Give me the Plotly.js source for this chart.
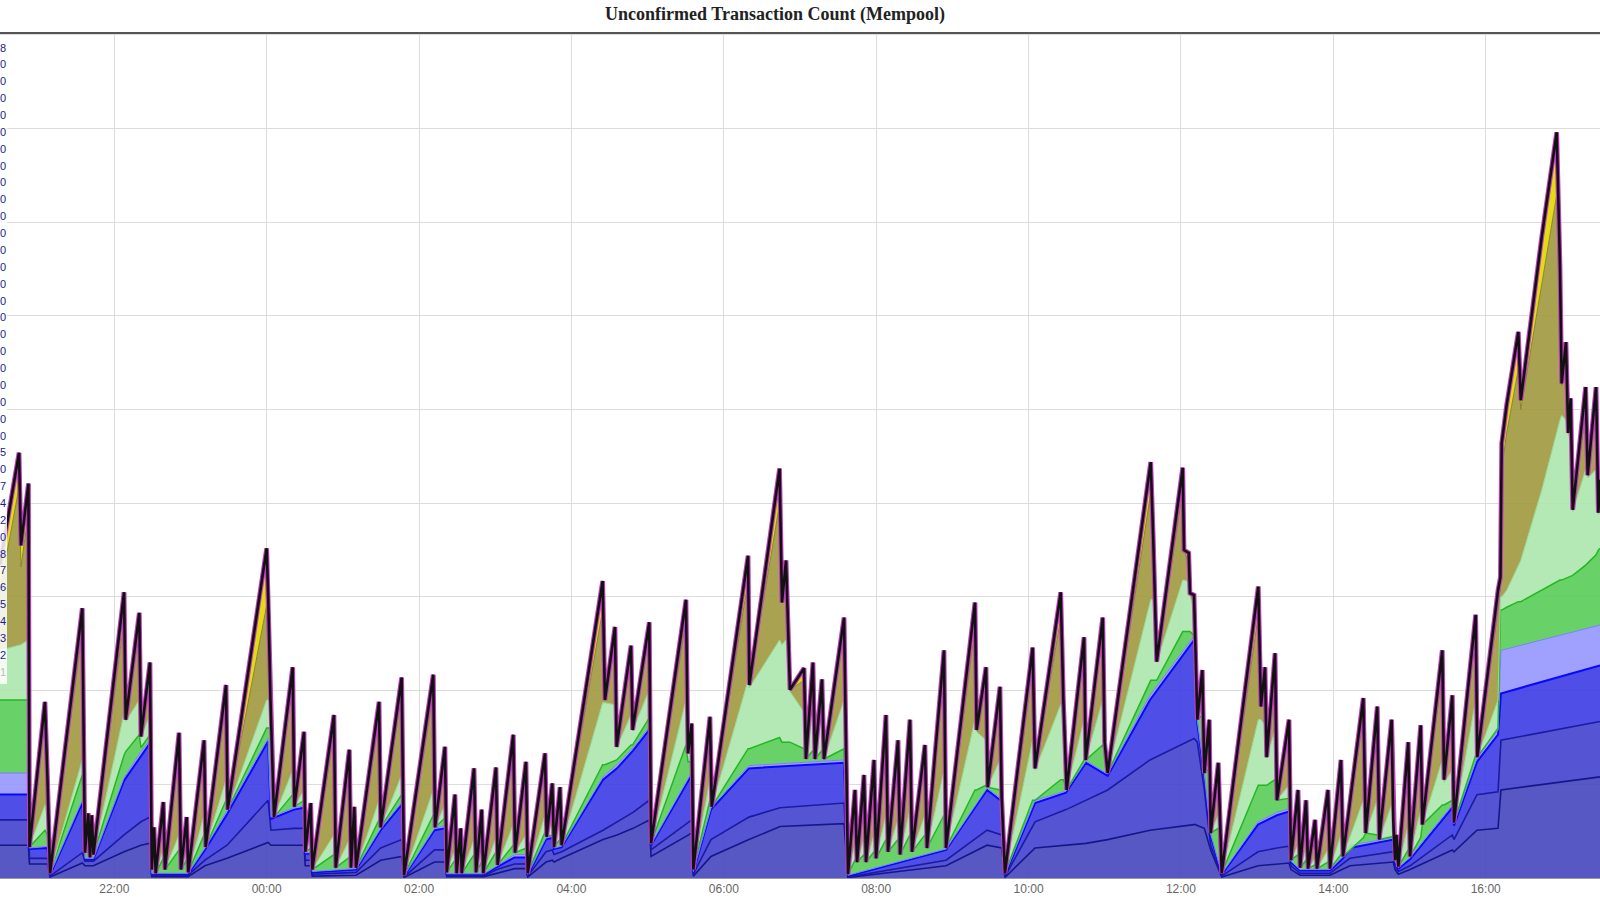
<!DOCTYPE html>
<html><head><meta charset="utf-8">
<script src="https://cdn.plot.ly/plotly-3.0.1.min.js"></script>
<style>html,body{margin:0;padding:0;background:#fff}#chart{width:1600px;height:900px}</style>
</head><body><div id="chart"></div>
<script>
// Time axis: minutes after 20:30 (first visible instant); values in thousands of unconfirmed transactions.
const vertexMinutes = [0.0,15.0,16.5,22.4,23.2,35.4,37.4,39.4,64.8,66.9,69.5,70.9,72.2,73.6,97.7,99.0,109.7,111.0,118.1,119.5,
121.3,122.6,128.6,129.9,141.0,142.5,147.0,148.3,160.7,162.0,178.0,179.3,210.0,211.3,213.0,215.8,230.5,231.8,239.4,240.4,
244.7,245.9,263.0,264.4,275.1,276.4,279.0,280.4,298.5,299.8,316.3,318.2,341.2,342.6,350.4,351.8,358.3,359.6,362.8,363.6,
373.3,374.9,379.3,380.6,390.6,391.9,404.2,405.6,414.2,415.6,429.2,430.5,434.9,436.3,441.0,442.3,474.6,476.4,484.3,485.6,
496.9,498.2,511.3,512.7,540.2,541.8,544.7,546.0,559.1,560.5,589.1,590.1,613.9,615.8,619.0,622.1,633.2,634.7,640.2,641.8,
647.3,648.9,664.7,667.8,673.3,674.9,680.4,682.0,688.3,689.9,697.7,699.3,707.2,708.8,716.6,718.2,728.4,730.0,743.4,745.0,
767.8,769.1,776.5,777.8,787.5,788.8,791.4,813.2,815.1,835.3,837.4,840.0,853.7,855.0,868.4,869.9,872.3,906.2,908.2,910.9,
931.4,932.4,936.1,937.1,940.3,941.6,942.9,946.8,948.4,952.3,953.4,959.4,962.1,990.9,993.0,996.2,997.5,1004.1,1005.6,1015.1,
1016.6,1022.2,1023.8,1028.5,1030.1,1035.6,1037.1,1045.8,1047.4,1056.0,1057.6,1073.6,1075.5,1084.6,1086.2,1095.9,1097.2,1098.6,1099.7,1101.2,
1109.0,1110.4,1118.8,1120.1,1135.8,1137.2,1143.7,1145.0,1162.1,1163.4,1179.7,1181.6,1182.6,1186.5,1195.7,1197.6,1214.1,1225.9,1228.5,1229.8,
1233.2,1235.0,1236.9,1238.5,1248.7,1250.3,1256.9,1258.7,1260.0];

const totalCount = [33.4,45.4,35.5,42.1,3.3,18.8,10.5,0.5,28.8,2.7,6.9,2.2,6.7,2.5,30.5,16.9,28.3,15.1,23.0,0.9,
5.4,0.5,8.1,0.9,15.5,0.9,6.5,0.6,14.7,3.3,20.6,7.3,35.2,29.5,19.0,6.5,22.5,7.6,15.6,2.8,
8.0,0.9,17.4,1.1,13.7,1.1,7.6,1.1,18.8,5.4,21.4,0.3,21.7,5.4,14.0,0.6,8.9,0.5,5.3,0.5,
11.7,0.6,7.3,0.5,11.8,1.4,15.3,2.7,12.4,0.5,13.3,4.4,10.1,3.3,9.7,3.5,31.7,19.0,26.8,14.0,
24.8,15.8,27.3,3.7,29.7,13.3,16.5,0.9,17.2,7.6,34.4,20.6,43.7,29.4,33.9,20.1,22.4,12.7,23.0,12.7,
21.2,12.7,27.8,0.4,9.4,1.7,11.0,1.7,12.6,2.1,17.4,2.8,14.7,2.5,16.9,2.8,14.2,3.2,24.3,3.2,
29.4,15.8,22.5,9.7,20.4,8.6,0.5,24.6,11.7,30.5,19.0,9.4,25.7,12.6,27.8,14.5,11.2,44.4,36.1,23.1,
43.8,35.0,34.7,30.4,30.2,21.9,16.9,22.2,11.2,16.9,4.8,12.3,0.5,31.1,18.3,22.5,12.9,24.0,8.3,16.9,
1.9,9.4,1.1,8.3,1.0,6.2,1.0,9.4,1.0,12.6,2.3,19.2,4.8,18.3,4.1,16.9,6.2,1.9,4.6,1.2,
14.5,2.3,16.3,5.7,24.3,10.5,19.5,5.9,28.1,12.9,30.7,32.1,46.4,50.5,58.3,51.0,68.4,79.6,65.2,52.8,
57.2,47.5,51.2,39.3,52.4,43.0,52.4,39.0,42.5];

const oliveTop = [30.7,41.7,33.2,38.9,3.3,16.9,9.4,0.5,26.3,2.7,6.4,2.2,6.2,2.5,27.5,16.9,26.5,15.1,21.7,0.9,
4.8,0.5,7.3,0.9,13.8,0.9,5.7,0.6,13.3,3.3,18.9,7.3,29.1,29.2,19.0,6.5,20.6,7.6,14.5,2.8,
7.3,0.9,15.3,1.1,12.1,1.1,6.8,1.1,17.0,5.4,19.6,0.3,19.6,5.4,12.9,0.6,7.9,0.5,4.8,0.5,
10.4,0.6,6.5,0.5,10.5,1.4,13.6,2.7,11.1,0.5,12.1,4.4,9.3,3.3,8.9,3.5,28.6,19.0,24.8,14.0,
23.3,15.8,25.9,3.7,27.5,13.3,15.9,0.9,16.0,7.6,31.7,20.6,39.9,29.4,31.4,20.1,21.1,12.7,21.7,12.7,
20.1,12.7,26.0,0.4,8.3,1.7,9.8,1.7,11.2,2.1,15.5,2.8,13.2,2.5,15.2,2.8,12.9,3.2,21.8,3.2,
26.6,15.8,20.7,9.7,18.9,8.6,0.5,22.3,11.7,27.7,19.0,9.4,23.9,12.6,25.9,14.5,11.2,41.1,36.1,23.1,
41.3,35.0,33.5,30.4,29.6,21.9,16.9,21.1,11.2,15.8,4.8,11.0,0.5,28.1,18.3,20.7,12.9,22.1,8.3,15.7,
1.9,8.3,1.1,7.4,1.0,5.5,1.0,8.3,1.0,11.2,2.3,17.1,4.8,16.4,4.1,15.2,6.2,1.9,4.1,1.2,
12.9,2.3,14.6,5.7,22.0,10.5,17.9,5.9,26.0,12.9,28.6,31.3,43.6,47.5,54.3,50.0,63.1,72.9,64.9,52.6,
53.7,47.5,48.5,39.3,49.7,43.0,49.9,39.0,42.0];

const lightGreenTop = [24.3,24.9,24.9,25.4,3.3,7.8,6.2,0.5,12.6,2.7,4.1,2.2,3.8,2.5,17.6,16.7,19.0,14.9,17.4,0.9,
2.5,0.5,3.0,0.9,4.6,0.9,2.8,0.6,6.7,3.3,10.5,7.3,19.0,19.0,18.8,6.5,11.5,7.6,9.4,2.8,
4.1,0.9,4.6,1.1,4.1,1.1,3.0,1.1,8.3,5.4,11.0,0.3,9.4,5.4,7.8,0.6,3.0,0.5,2.1,0.5,
4.1,0.6,2.8,0.5,4.3,1.4,5.7,2.7,4.6,0.5,6.7,4.4,5.7,3.3,5.3,3.5,18.7,18.7,18.5,13.9,
17.4,15.7,20.1,3.7,19.0,13.2,13.7,0.9,10.5,7.6,21.1,20.3,25.4,24.9,25.4,19.9,17.7,12.7,17.9,12.7,
17.4,12.7,19.0,0.4,3.5,1.7,4.1,1.7,4.6,2.1,6.7,2.8,6.2,2.5,7.3,2.8,6.7,3.2,11.5,3.2,
16.9,15.6,14.7,9.7,12.6,8.6,0.5,14.7,11.5,18.5,18.5,9.4,16.9,12.6,19.0,14.4,11.2,29.7,29.7,23.0,
31.8,31.8,31.6,30.2,28.6,21.9,16.9,19.0,11.2,13.1,4.8,6.7,0.5,16.9,16.9,16.3,12.8,15.8,8.3,9.9,
1.9,3.5,1.1,3.0,1.0,2.1,1.0,3.0,1.0,4.6,2.3,8.3,4.8,8.3,4.1,7.8,6.0,1.9,2.8,1.2,
5.7,2.3,7.3,5.7,12.6,10.2,11.5,5.9,19.0,12.9,19.0,30.0,30.0,30.7,33.4,33.9,41.4,47.8,48.9,49.4,
48.9,47.3,46.8,39.1,43.6,42.7,43.6,38.8,39.1];

const greenTop = [19.0,19.0,19.0,19.0,3.3,5.1,4.6,0.5,11.0,2.7,3.2,2.2,3.0,2.5,13.1,13.5,15.3,13.9,15.3,0.9,
1.7,0.5,2.1,0.9,3.0,0.9,1.9,0.6,4.6,3.3,8.3,7.3,16.0,16.0,16.0,6.5,8.9,7.6,8.3,2.8,
3.2,0.9,2.5,1.1,2.2,1.1,1.9,1.1,6.2,5.4,8.9,0.3,6.7,5.4,6.4,0.6,1.9,0.5,1.5,0.5,
2.5,0.6,1.7,0.5,2.8,1.4,3.5,2.7,3.2,0.5,4.9,4.4,4.6,3.3,4.1,3.5,12.1,12.1,12.6,12.6,
14.2,14.2,17.1,3.7,14.2,12.4,12.4,0.9,8.3,7.6,13.8,13.8,15.0,14.5,14.5,14.5,13.8,12.7,13.6,12.7,
13.6,12.7,13.8,0.4,1.9,1.7,2.5,1.7,2.8,2.1,4.1,2.8,4.1,2.5,4.6,2.8,4.6,3.2,6.7,3.2,
9.4,9.4,9.9,9.7,9.4,8.6,0.5,8.3,8.3,10.5,10.5,9.4,12.6,12.6,14.2,13.7,11.2,21.1,21.1,21.1,
26.3,26.3,26.3,26.3,25.9,21.9,16.9,17.4,11.2,11.7,4.8,5.3,0.5,9.9,9.9,9.9,9.9,10.5,8.3,8.5,
1.9,2.5,1.1,1.9,1.0,1.4,1.0,1.7,1.0,2.5,2.3,4.3,4.8,4.6,4.1,4.4,4.4,1.9,2.1,1.2,
3.0,2.3,4.3,5.7,7.8,7.8,8.3,5.9,13.1,12.9,16.0,28.6,28.6,28.9,29.5,29.5,30.7,31.6,31.8,31.8,
32.0,32.1,32.2,32.3,33.4,33.6,34.5,35.0,35.2];

// Low-fee (blue) layers change slowly: read at their own key instants.
const baseMinutes = [0,22.4,23.2,37.4,39.4,64.8,66.9,73.6,97.7,111.0,118.1,119.5,148.1,161.4,178.8,211.1,213.4,231.5,239.4,240.4,
244.7,245.9,280.4,299.8,316.3,318.2,342.2,350.4,351.8,381.2,391.4,405.2,414.2,415.6,430.0,434.9,436.3,442.3,474.9,485.9,
498.5,511.3,512.7,544.7,546.0,559.9,589.8,614.3,664.7,667.8,745.0,777.3,788.8,791.4,815.1,839.5,855.2,872.3,905.6,940.3,
941.6,942.9,948.4,953.4,962.1,990.7,1005.6,1015.1,1016.6,1023.8,1047.4,1057.6,1063.1,1097.2,1098.6,1101.2,1110.4,1143.7,1145.0,1163.1,
1179.7,1182.0,1260];
const lavenderTop = [11.2,11.2,3.2,3.4,0.4,8.3,2.1,2.1,10.7,13.5,14.7,0.5,0.5,3.2,7.2,14.9,6.5,7.5,7.7,2.7,
2.7,0.7,1.0,5.3,8.1,0.25,5.3,5.6,0.45,0.45,1.3,2.5,2.5,0.4,4.3,4.5,3.2,3.4,10.8,12.1,
13.9,16.1,3.6,11.3,0.7,7.5,12.0,12.2,12.6,0.3,3.1,9.6,8.4,0.4,8.3,9.3,12.5,11.1,19.5,25.8,
21.8,16.8,11.1,4.7,0.45,6.0,7.0,7.4,1.8,0.9,0.9,2.3,3.5,4.3,1.8,1.1,2.2,7.8,5.8,12.8,
15.8,24.3,27.0];
const blueTop = [8.9,8.9,3.1,3.2,0.3,8.0,2.0,2.0,10.4,13.1,14.4,0.45,0.4,3.0,6.8,14.6,6.3,7.3,7.5,2.6,
2.6,0.6,0.9,5.1,7.8,0.2,5.1,5.3,0.4,0.4,1.2,2.2,2.2,0.3,4.1,4.3,3.1,3.3,10.5,11.7,
13.6,15.8,3.5,11.0,0.6,7.3,11.7,11.9,12.3,0.2,3.0,9.4,8.2,0.3,8.0,9.1,12.3,10.9,19.0,25.4,
21.6,16.5,10.9,4.5,0.35,5.7,6.7,7.1,1.7,0.8,0.8,2.1,3.2,4.1,1.7,1.0,2.0,7.5,5.6,12.4,
15.3,19.7,22.7];
const navy2Top = [6.2,6.2,2.1,2.1,0.2,2.7,1.8,1.8,4.6,6.0,6.5,0.3,0.3,1.9,3.5,8.3,5.1,5.3,5.3,1.9,
1.9,0.4,0.6,3.2,4.1,0.1,3.0,3.0,0.25,0.25,0.9,1.5,1.5,0.2,2.8,3.0,2.5,2.8,5.1,6.0,
7.0,8.3,3.0,6.2,0.4,4.1,6.5,7.5,8.0,0.1,1.9,5.1,4.6,0.15,6.0,7.3,8.3,9.4,12.6,14.9,
14.7,14.5,9.4,3.5,0.2,2.8,3.2,3.4,1.3,0.5,0.5,1.5,2.1,2.8,1.3,0.7,1.3,4.6,4.1,8.9,
9.2,14.7,16.7];
const navy1Top = [3.5,3.5,1.5,1.5,0.1,1.6,1.3,1.3,2.8,3.5,3.7,0.15,0.15,1.3,2.1,3.8,3.5,3.5,3.5,1.3,
1.3,0.2,0.3,1.9,2.3,0.05,1.7,1.7,0.15,0.15,0.5,1.0,1.0,0.1,1.7,1.9,1.7,2.1,4.1,4.6,
5.3,6.2,2.3,4.8,0.2,2.3,4.1,5.5,5.8,0.05,1.3,3.5,3.2,0.05,3.2,3.5,3.7,4.1,5.1,5.7,
5.7,5.6,5.3,3.0,0.1,1.3,1.5,1.6,0.9,0.3,0.3,1.0,1.3,1.7,0.9,0.4,0.9,3.0,2.8,5.1,
5.3,9.4,10.8];

// Visible tail characters of the fee-level legend at the left edge (bottom to top).
const legendTail = ['1','2','3','4','5','6','7','8','0','2','4','7','0','5','0','0','0','0','0','0','0','0','0',
'0','0','0','0','0','0','0','0','0','0','0','0','0','0','8'];
const tickLabels = ['22:00','00:00','02:00','04:00','06:00','08:00','10:00','12:00','14:00','16:00'];

const BASE = Date.UTC(2017, 11, 7, 20, 30, 0);
function toDate(m) { return new Date(BASE + m * 60000).toISOString().slice(0, 19).replace('T', ' '); }
function labelToMinutes(s) { let m = parseInt(s.slice(0, 2)) * 60 + parseInt(s.slice(3, 5)) - (20 * 60 + 30); if (m < 0) m += 1440; return m; }
const K = a => a.map(v => v * 1000);
const vx = vertexMinutes.map(toDate);
const bx = baseMinutes.map(toDate);

function layer(x, y, fill, fillcolor, lineColor, lineWidth) {
  return { type: 'scatter', mode: 'lines', x: x, y: K(y), fill: fill, fillcolor: fillcolor,
    line: { color: lineColor, width: lineWidth, shape: 'linear' }, hoverinfo: 'skip', showlegend: false };
}

const traces = [
  layer(bx, navy1Top, 'tozeroy', 'rgba(70,70,190,0.9)', '#16168c', 1.6),
  layer(bx, navy2Top, 'tonexty', 'rgba(66,66,206,0.9)', '#1a1aa2', 1.6),
  layer(bx, blueTop, 'tonexty', 'rgba(60,60,228,0.9)', '#0808ff', 2),
  layer(bx, lavenderTop, 'tonexty', 'rgba(150,150,255,0.9)', '#7c7cff', 1),
  layer(vx, greenTop, 'tonexty', 'rgba(88,204,88,0.9)', '#22b822', 1.5),
  layer(vx, lightGreenTop, 'tonexty', 'rgba(172,229,172,0.9)', '#96d896', 1),
  layer(vx, oliveTop, 'tonexty', 'rgba(160,153,62,0.9)', '#8a8430', 1),
  layer(vx, totalCount, 'tonexty', 'rgba(226,216,0,0.92)', 'rgba(0,0,0,0)', 0),
  { type: 'scatter', mode: 'lines', x: vx, y: K(totalCount), line: { color: '#c23cc2', width: 4.8 }, hoverinfo: 'skip', showlegend: false },
  { type: 'scatter', mode: 'lines', x: vx, y: K(totalCount), line: { color: '#111111', width: 2.6 }, hoverinfo: 'skip', showlegend: false }
];

const plotTop = 33, plotBottom = 878, plotH = plotBottom - plotTop;
const annotations = legendTail.map((ch, i) => ({
  xref: 'paper', yref: 'paper', x: 0, xanchor: 'left', xshift: -1,
  y: (plotBottom - (671.7 - i * 16.87)) / plotH, yanchor: 'middle',
  text: ch, showarrow: false, borderpad: 0,
  font: { family: 'Liberation Sans, Arial, sans-serif', size: 11, color: i === 0 ? '#bbbbbb' : '#1c1c8c' }
}));

const layout = {
  width: 1600, height: 900,
  margin: { l: 0, r: 0, t: plotTop, b: 900 - plotBottom, pad: 0 },
  paper_bgcolor: '#ffffff', plot_bgcolor: '#ffffff',
  showlegend: false,
  title: { text: 'Unconfirmed Transaction Count (Mempool)', x: 775 / 1600, xref: 'paper', xanchor: 'center',
    y: 1 - 14 / 900, yref: 'container', yanchor: 'middle',
    font: { family: 'Liberation Serif, Times New Roman, serif', size: 18, color: '#222222', weight: 'bold' } },
  xaxis: { type: 'date', range: [toDate(0), toDate(1260)],
    tickvals: tickLabels.map(s => toDate(labelToMinutes(s))), ticktext: tickLabels,
    showgrid: true, gridcolor: '#dcdcdc', gridwidth: 1, zeroline: false,
    showline: true, linecolor: '#999999', linewidth: 1, ticks: '',
    tickfont: { family: 'Liberation Sans, Arial, sans-serif', size: 12, color: '#666666' }, fixedrange: true },
  yaxis: { range: [0, 90200], tick0: 0, dtick: 10000, showticklabels: false, showgrid: true, gridcolor: '#dcdcdc',
    zeroline: false, showline: false, ticks: '', fixedrange: true },
  shapes: [
    { type: 'rect', xref: 'paper', yref: 'paper', x0: 0, x1: 7 / 1600, y0: (plotBottom - 684) / plotH, y1: (plotBottom - 38) / plotH,
      fillcolor: 'rgba(255,255,255,0.85)', line: { width: 0 }, layer: 'above' },
    { type: 'line', xref: 'paper', yref: 'paper', x0: 0, x1: 1, y0: 1, y1: 1, line: { color: '#555555', width: 2 }, layer: 'above' }
  ],
  annotations: annotations
};

Plotly.newPlot('chart', traces, layout, { displayModeBar: false, staticPlot: true });
</script>
</body></html>
